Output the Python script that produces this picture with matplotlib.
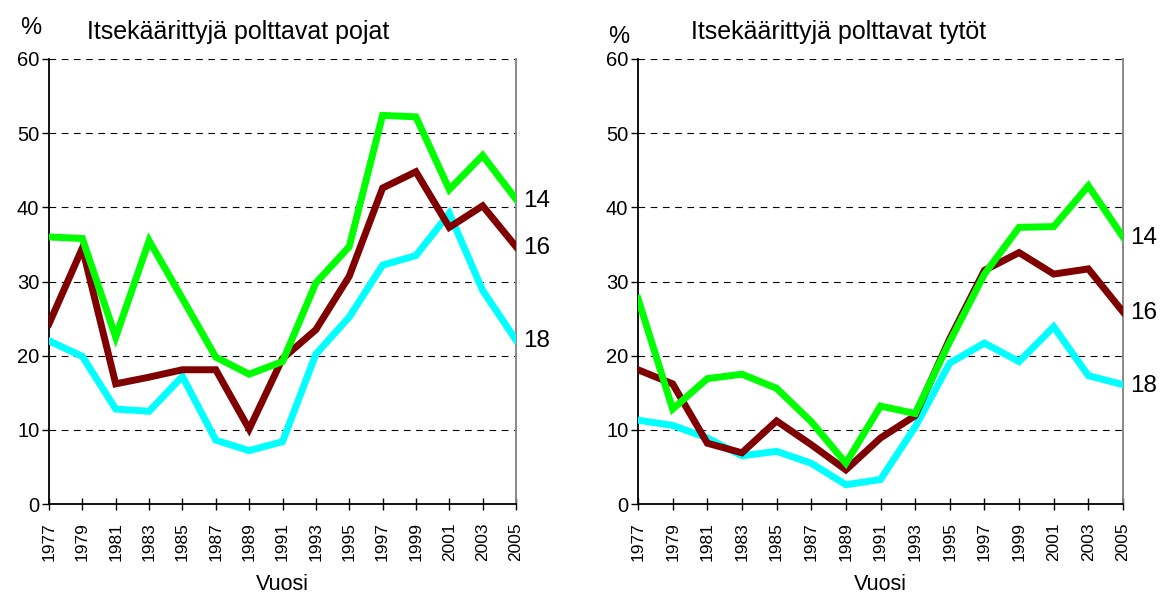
import matplotlib.pyplot as plt

# ---- data ----
years = list(range(1977, 2006, 2))

boys_14 = [36.0, 35.8, 22.5, 35.5, 27.7, 19.8, 17.5, 19.2, 29.8, 34.7, 52.4, 52.2, 42.4, 47.0, 41.1]
boys_16 = [24.3, 34.5, 16.2, 17.1, 18.1, 18.1, 10.1, 19.6, 23.5, 30.7, 42.6, 44.8, 37.3, 40.2, 34.7]
boys_18 = [22.0, 19.9, 12.8, 12.5, 17.2, 8.6, 7.2, 8.4, 20.2, 25.2, 32.2, 33.5, 39.2, 28.8, 22.1]

girls_14 = [27.7, 12.8, 16.9, 17.5, 15.6, 11.1, 5.5, 13.2, 12.2, 21.9, 31.0, 37.3, 37.4, 42.9, 36.0]
girls_16 = [18.1, 16.2, 8.2, 6.9, 11.2, 8.0, 4.6, 8.9, 11.9, 22.3, 31.5, 33.9, 31.0, 31.7, 25.9]
girls_18 = [11.3, 10.6, 8.9, 6.5, 7.1, 5.5, 2.6, 3.3, 10.4, 19.0, 21.7, 19.2, 23.9, 17.3, 16.1]

ages = ["14", "16", "18"]
colors = ["#00ff00", "#800000", "#00ffff"]
titles = ["Itsekäärittyjä polttavat pojat", "Itsekäärittyjä polttavat tytöt"]

plt.rcParams["font.family"] = ["Liberation Sans", "DejaVu Sans"]

fig = plt.figure(figsize=(11.62, 5.93), dpi=100)
ax1 = fig.add_axes([49 / 1162, 89 / 593, 467 / 1162, 445 / 593])
ax2 = fig.add_axes([638 / 1162, 89 / 593, 485 / 1162, 445 / 593])

panels = [(ax1, [boys_14, boys_16, boys_18]), (ax2, [girls_14, girls_16, girls_18])]

for i, (ax, series) in enumerate(panels):
    # 14 on top, so draw 18 first
    for vals, col in reversed(list(zip(series, colors))):
        ax.plot(years, vals, color=col, lw=5, solid_joinstyle="miter", zorder=3)

    ax.set_xlim(1977, 2005)
    ax.set_ylim(0, 60)
    ax.set_xticks(years)
    ax.set_xticklabels([str(y) for y in years], rotation=90, fontsize=12.5)
    ax.set_yticks(range(0, 61, 10))
    ax.tick_params(axis="y", labelsize=14.5, direction="out", length=5, width=1, pad=2)
    ax.tick_params(axis="x", direction="inout", length=8, width=1, pad=9)

    ax.yaxis.grid(True, color="black", ls=(0, (6, 5)), lw=0.8)
    ax.set_axisbelow(True)

    for s in ["left", "bottom"]:
        ax.spines[s].set_color("black")
        ax.spines[s].set_linewidth(1.3)
    ax.spines["right"].set_color("#808080")
    ax.spines["right"].set_linewidth(1.3)
    ax.spines["top"].set_visible(False)

    ax.set_xlabel("Vuosi", fontsize=15.5, labelpad=9)

    # end labels for the age groups
    for vals, age in zip(series, ages):
        ax.annotate(age, xy=(years[-1], vals[-1]), xytext=(5, -1), textcoords="offset points",
                    va="center", ha="left", fontsize=17.5, annotation_clip=False)

fig.text(20 / 1162, 1 - 34 / 593, "%", fontsize=17, ha="left", va="baseline")
fig.text(87 / 1162, 1 - 39 / 593, titles[0], fontsize=18, ha="left", va="baseline")
fig.text(608 / 1162, 1 - 43 / 593, "%", fontsize=17, ha="left", va="baseline")
fig.text(691 / 1162, 1 - 39 / 593, titles[1], fontsize=18, ha="left", va="baseline")

fig.savefig("out.png", dpi=100)
